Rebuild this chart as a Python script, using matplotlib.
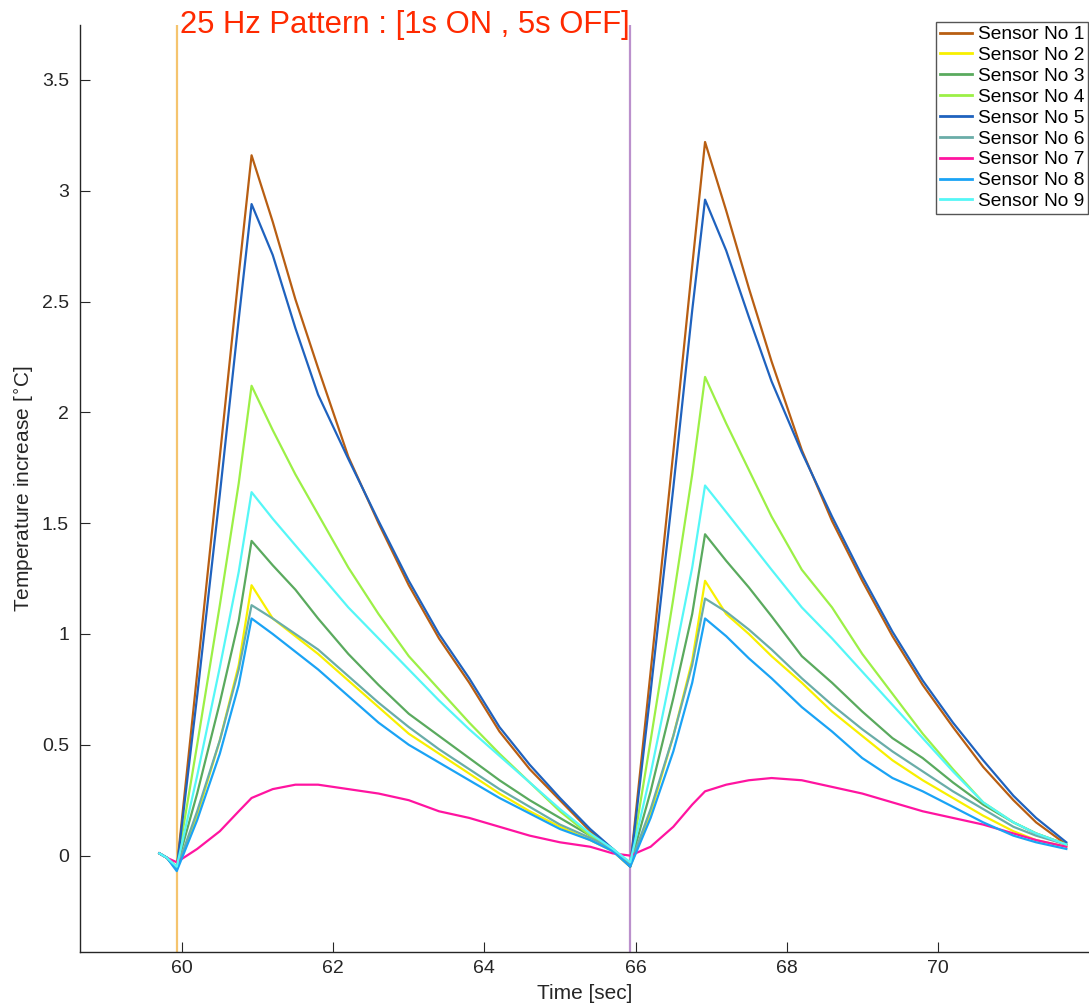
import matplotlib
matplotlib.use('Agg')
import matplotlib.pyplot as plt

plt.rcParams['font.family'] = ['Liberation Sans', 'DejaVu Sans']

# sample times [sec], two stimulation cycles
time = [59.70, 59.80, 59.93, 60.20, 60.50, 60.75, 60.92, 61.20, 61.50, 61.80,
        62.20, 62.60, 63.00, 63.40, 63.80, 64.20, 64.60, 65.00, 65.40, 65.70,
        65.93, 66.20, 66.50, 66.75, 66.92, 67.20, 67.50, 67.80, 68.20, 68.60,
        69.00, 69.40, 69.80, 70.20, 70.60, 71.00, 71.30, 71.70]

# temperature increase per sensor [C]
sensor1 = [0.01, -0.01, -0.06, 0.82, 1.80, 2.62, 3.16, 2.86, 2.51, 2.20,
           1.80, 1.50, 1.22, 0.98, 0.78, 0.56, 0.39, 0.25, 0.11, 0.02,
           -0.05, 0.83, 1.82, 2.66, 3.22, 2.91, 2.56, 2.23, 1.83, 1.51,
           1.24, 0.99, 0.77, 0.58, 0.40, 0.25, 0.15, 0.05]
sensor2 = [0.01, -0.01, -0.06, 0.18, 0.52, 0.86, 1.22, 1.07, 0.99, 0.91,
           0.79, 0.67, 0.55, 0.46, 0.37, 0.28, 0.20, 0.13, 0.07, 0.02,
           -0.05, 0.19, 0.54, 0.88, 1.24, 1.09, 1.00, 0.90, 0.78, 0.65,
           0.54, 0.43, 0.34, 0.26, 0.18, 0.11, 0.07, 0.04]
sensor3 = [0.01, -0.01, -0.05, 0.28, 0.69, 1.06, 1.42, 1.31, 1.20, 1.07,
           0.91, 0.77, 0.64, 0.54, 0.44, 0.34, 0.25, 0.17, 0.09, 0.03,
           -0.04, 0.29, 0.71, 1.09, 1.45, 1.33, 1.21, 1.08, 0.90, 0.78,
           0.65, 0.53, 0.44, 0.33, 0.23, 0.15, 0.10, 0.05]
sensor4 = [0.01, -0.01, -0.05, 0.50, 1.13, 1.68, 2.12, 1.92, 1.72, 1.54,
           1.30, 1.09, 0.90, 0.75, 0.60, 0.46, 0.33, 0.20, 0.09, 0.02,
           -0.04, 0.52, 1.16, 1.72, 2.16, 1.95, 1.74, 1.53, 1.29, 1.12,
           0.91, 0.73, 0.55, 0.39, 0.24, 0.15, 0.10, 0.05]
sensor5 = [0.01, -0.01, -0.06, 0.72, 1.63, 2.42, 2.94, 2.71, 2.38, 2.08,
           1.79, 1.51, 1.24, 1.00, 0.80, 0.58, 0.41, 0.26, 0.12, 0.03,
           -0.05, 0.74, 1.66, 2.46, 2.96, 2.73, 2.43, 2.14, 1.82, 1.53,
           1.26, 1.01, 0.79, 0.60, 0.43, 0.27, 0.17, 0.06]
sensor6 = [0.01, -0.01, -0.06, 0.20, 0.52, 0.84, 1.13, 1.07, 1.00, 0.93,
           0.81, 0.69, 0.58, 0.48, 0.39, 0.30, 0.22, 0.14, 0.08, 0.03,
           -0.04, 0.21, 0.54, 0.86, 1.16, 1.10, 1.02, 0.93, 0.80, 0.68,
           0.57, 0.47, 0.38, 0.29, 0.21, 0.13, 0.09, 0.05]
sensor7 = [0.01, -0.01, -0.03, 0.03, 0.11, 0.20, 0.26, 0.30, 0.32, 0.32,
           0.30, 0.28, 0.25, 0.20, 0.17, 0.13, 0.09, 0.06, 0.04, 0.01,
           0.00, 0.04, 0.13, 0.23, 0.29, 0.32, 0.34, 0.35, 0.34, 0.31,
           0.28, 0.24, 0.20, 0.17, 0.14, 0.10, 0.07, 0.04]
sensor8 = [0.01, -0.01, -0.07, 0.16, 0.46, 0.77, 1.07, 1.00, 0.92, 0.84,
           0.72, 0.60, 0.50, 0.42, 0.34, 0.26, 0.19, 0.12, 0.07, 0.02,
           -0.05, 0.17, 0.47, 0.78, 1.07, 0.99, 0.89, 0.80, 0.67, 0.56,
           0.44, 0.35, 0.29, 0.22, 0.15, 0.09, 0.06, 0.03]
sensor9 = [0.01, -0.01, -0.05, 0.36, 0.85, 1.28, 1.64, 1.52, 1.40, 1.28,
           1.12, 0.98, 0.84, 0.70, 0.57, 0.45, 0.33, 0.21, 0.10, 0.03,
           -0.03, 0.37, 0.87, 1.30, 1.67, 1.55, 1.42, 1.29, 1.12, 0.98,
           0.83, 0.68, 0.53, 0.38, 0.24, 0.15, 0.10, 0.05]

sensors = [sensor1, sensor2, sensor3, sensor4, sensor5,
           sensor6, sensor7, sensor8, sensor9]
names = ['Sensor No %d' % (i + 1) for i in range(9)]
colors = ['#B85E12', '#F8F000', '#5AAA5E', '#9CF046', '#1F62BE',
          '#6AADA8', '#FF14A0', '#1AA3F5', '#55F7F7']

# stimulation onsets
onsets = [59.93, 65.93]
onset_colors = ['#F5C46E', '#BB90CC']

fig = plt.figure(figsize=(10.89, 10.08), dpi=100)
ax = fig.add_axes([80 / 1089, 56 / 1008, 1 - 80 / 1089, 927 / 1008])

for x, c in zip(onsets, onset_colors):
    ax.axvline(x, color=c, lw=1.6, zorder=1)

for y, name, c in zip(sensors, names, colors):
    ax.plot(time, y, color=c, lw=1.6, label=name, zorder=2)

ax.set_xlim(58.65, 72.0)
ax.set_ylim(-0.435, 3.748)
ax.set_xticks([60, 62, 64, 66, 68, 70])
ax.set_yticks([0, 0.5, 1, 1.5, 2, 2.5, 3, 3.5])
ax.set_yticklabels(['0', '0.5', '1', '1.5', '2', '2.5', '3', '3.5'])

for side in ['top', 'right']:
    ax.spines[side].set_visible(False)
for side in ['left', 'bottom']:
    ax.spines[side].set_color('#262626')
    ax.spines[side].set_linewidth(1.0)
ax.tick_params(direction='in', length=7, width=0.8, colors='#262626',
               labelsize=14)
ax.tick_params(axis='y', pad=8)
ax.tick_params(axis='x', pad=6)

ax.set_xlabel('Time [sec]', fontsize=15, color='#262626', labelpad=5)
ax.set_ylabel(r'Temperature increase [$^{\circ}$C]', fontsize=15,
              color='#262626', labelpad=4)

fig.text(180 / 1089, 1 - 33 / 1008, '25 Hz Pattern : [1s ON , 5s OFF]',
         color='#FF2A00', fontsize=22.3, ha='left', va='baseline')

leg = ax.legend(loc='upper right', bbox_to_anchor=(1088 / 1089, 1 - 22 / 1008),
                bbox_transform=fig.transFigure, fontsize=13.8, frameon=True,
                fancybox=False, borderpad=0.2, labelspacing=0.18,
                handlelength=1.65, handletextpad=0.3, borderaxespad=0)
leg.get_frame().set_edgecolor('#555555')
leg.get_frame().set_linewidth(1.0)
leg.get_frame().set_alpha(1)
for line in leg.get_lines():
    line.set_linewidth(2.0)

plt.savefig('out.png', dpi=100)
